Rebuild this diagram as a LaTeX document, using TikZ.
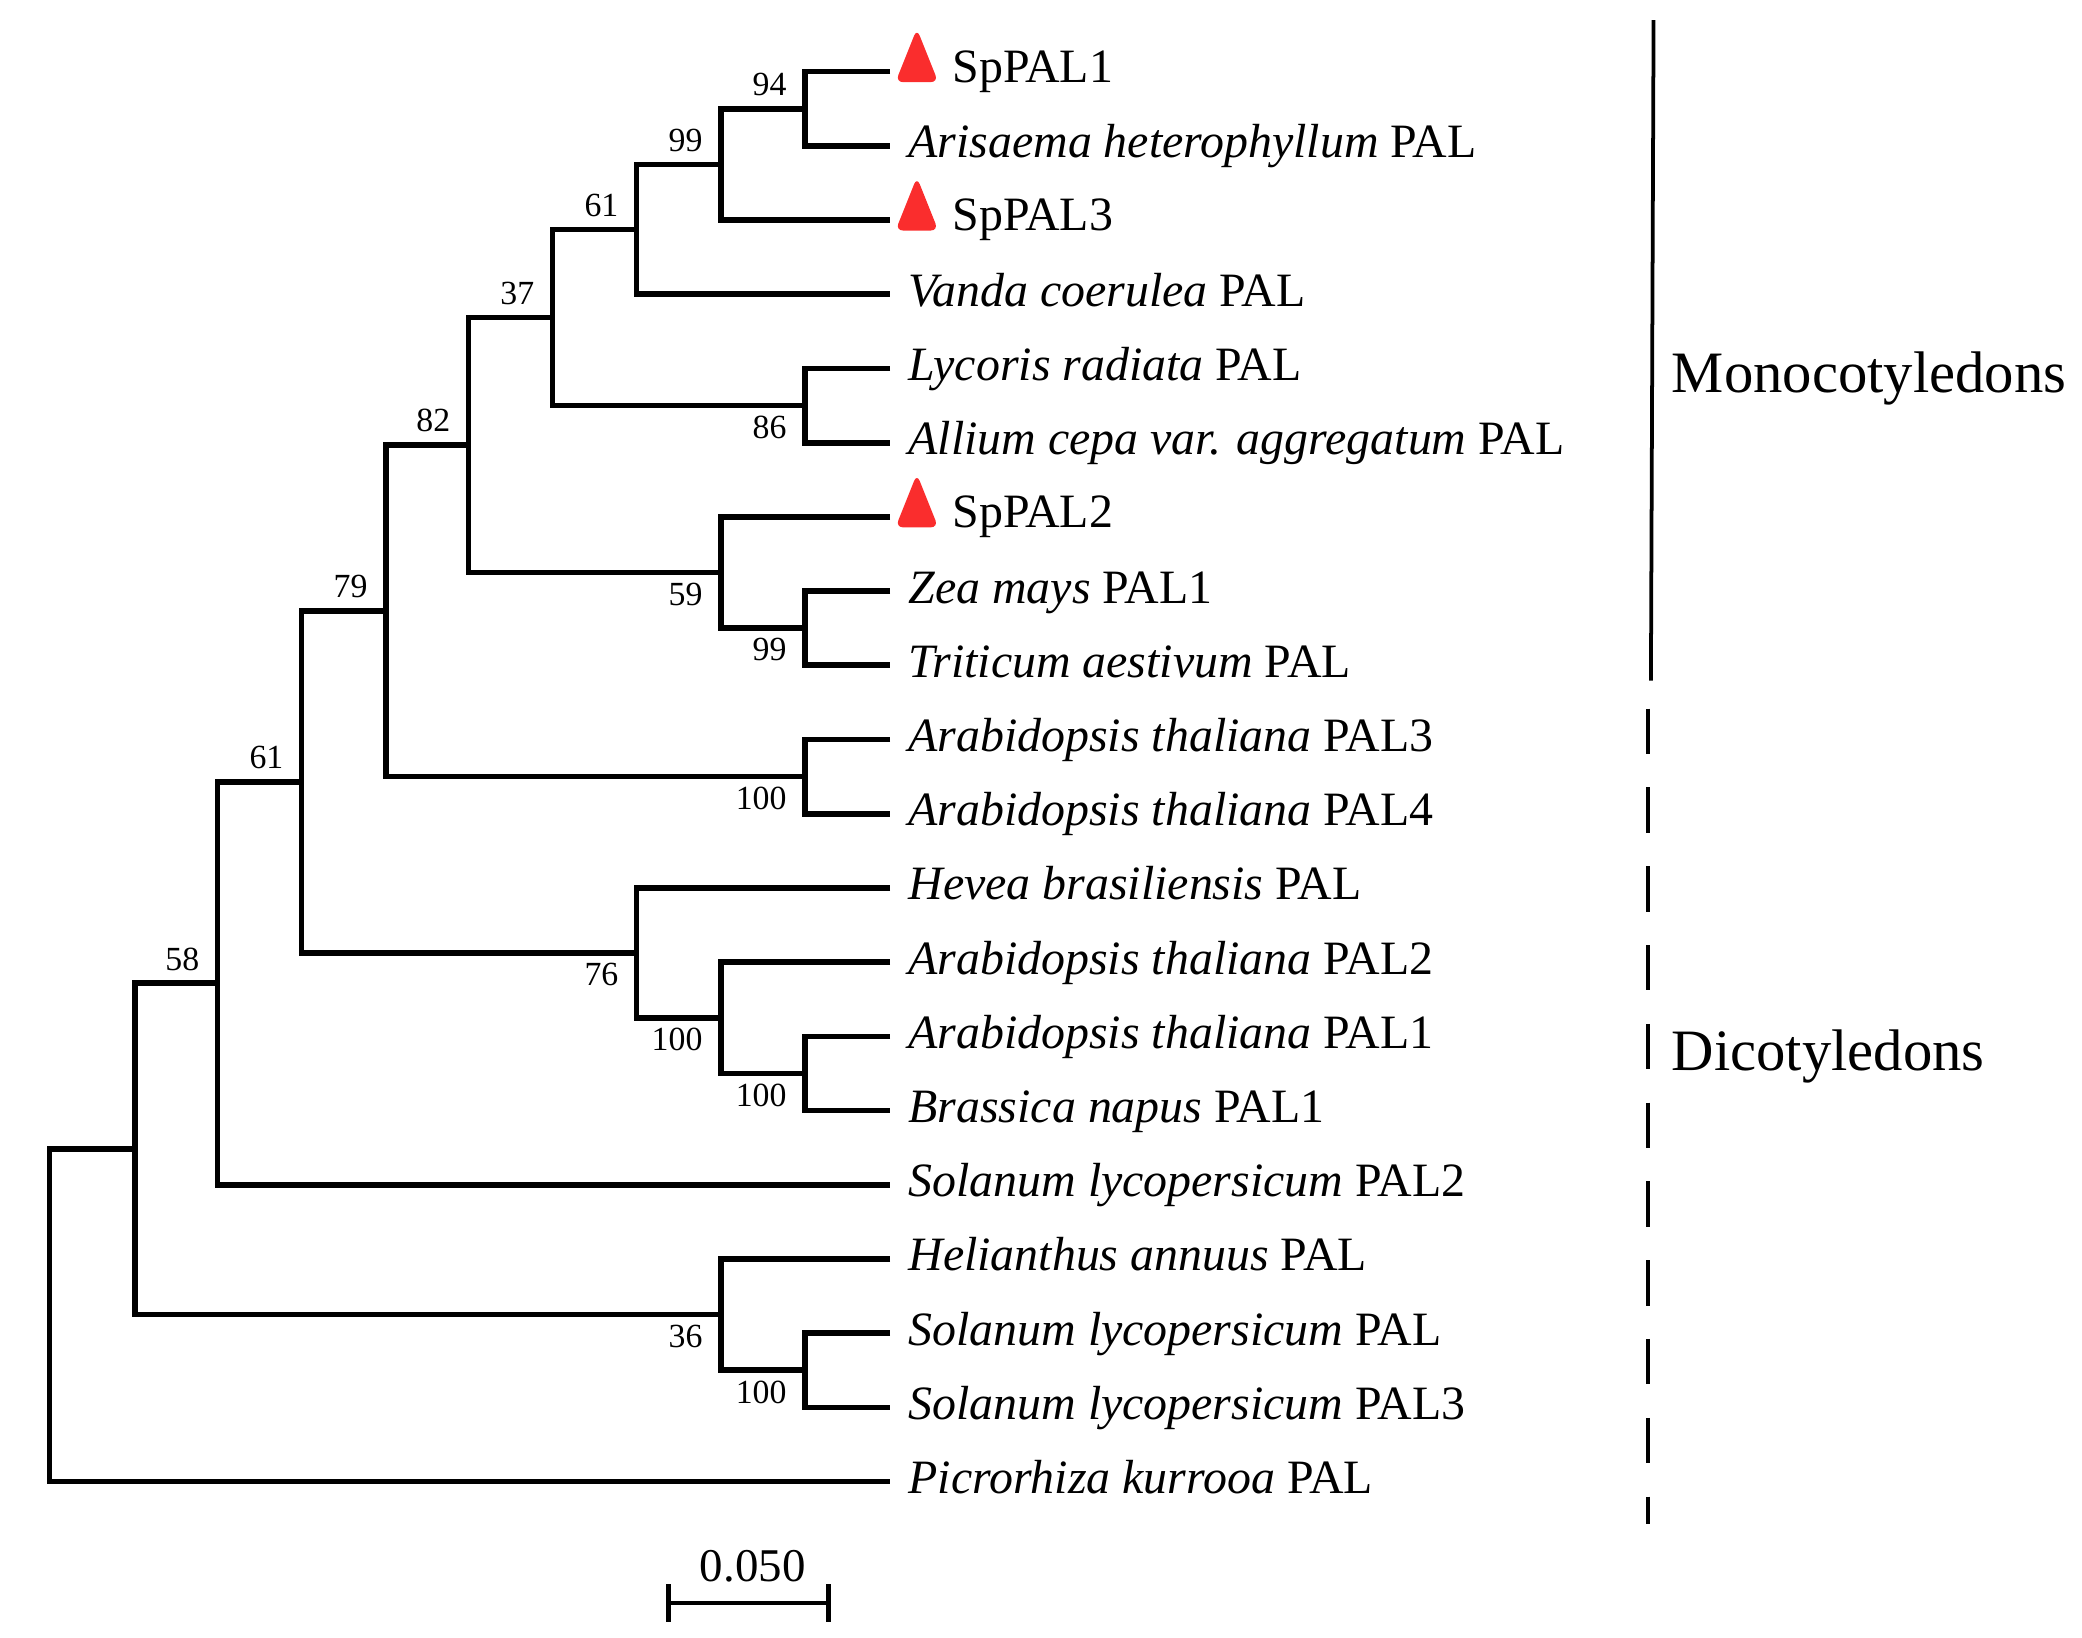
\documentclass[tikz,border=0pt]{standalone}
\usepackage{fontspec}
\setmainfont{Liberation Serif}
\usetikzlibrary{calc,shapes.geometric}
\definecolor{spred}{RGB}{250,45,45}
\tikzset{
  branch/.style={line width=1.2pt},
  taxon/.style={anchor=base west, inner sep=0pt, xshift=0.13cm, yshift=-0.09cm, font=\fontsize{10.2}{12}\selectfont},
  sptaxon/.style={anchor=base west, inner sep=0pt, xshift=0.46cm, yshift=-0.08cm, font=\fontsize{10.2}{12}\selectfont},
  marker/.style={isosceles triangle, isosceles triangle stretches, shape border rotate=90, fill=spred, inner sep=0pt, minimum width=0.32cm, minimum height=0.40cm, rounded corners=1.6pt, xshift=0.20cm, yshift=0.03cm},
  boot/.style={inner sep=0pt, font=\fontsize{7.2}{8}\selectfont},
  bootup/.style={boot, anchor=south east, xshift=-0.13cm, yshift=0.09cm},
  bootdown/.style={boot, anchor=north east, xshift=-0.13cm, yshift=-0.07cm},
  group/.style={anchor=base west, inner sep=0pt, font=\fontsize{12.5}{14}\selectfont},
  bar/.style={line width=0.8pt}
}
\begin{document}
\begin{tikzpicture}[x=0.01cm, y=-0.01cm]
  \useasboundingbox (0,0) rectangle (1560,1227);
  % tips
  \foreach \i in {0,...,19}
    \coordinate (t\i) at (667, {53.7+55.6*\i});
  % clades, children before parents
  \foreach \cl/\cx/\ca/\cb in {n94/603/t0/t1, n99a/540/n94/t2, n61a/477/n99a/t3,
      n86/603/t4/t5, n37/414/n61a/n86, n99b/603/t7/t8, n59/540/t6/n99b,
      n82/351/n37/n59, n100a/603/t9/t10, n79/289/n82/n100a,
      n100c/603/t13/t14, n100b/540/t12/n100c, n76/477/t11/n100b,
      n61b/226/n79/n76, n58/163/n61b/t15, n100d/603/t17/t18,
      n36/540/t16/n100d, nA/101/n58/n36, root/37/nA/t19}{
    \path let \p1 = ($(\ca)!0.5!(\cb)$) in (\cx*0.01cm, \y1) coordinate (\cl);
    \draw[branch] (\ca) -| (\cl) |- (\cb);
  }

  % taxa
  \node[marker] (mk0) at (t0) {};
  \node[sptaxon] (lab0) at (t0) {SpPAL1};
  \node[taxon] (lab1) at (t1) {\textit{Arisaema heterophyllum} PAL};
  \node[marker] (mk2) at (t2) {};
  \node[sptaxon] (lab2) at (t2) {SpPAL3};
  \node[taxon] (lab3) at (t3) {\textit{Vanda coerulea} PAL};
  \node[taxon] (lab4) at (t4) {\textit{Lycoris radiata} PAL};
  \node[taxon] (lab5) at (t5) {\textit{Allium cepa var. aggregatum} PAL};
  \node[marker] (mk6) at (t6) {};
  \node[sptaxon] (lab6) at (t6) {SpPAL2};
  \node[taxon] (lab7) at (t7) {\textit{Zea mays} PAL1};
  \node[taxon] (lab8) at (t8) {\textit{Triticum aestivum} PAL};
  \node[taxon] (lab9) at (t9) {\textit{Arabidopsis thaliana} PAL3};
  \node[taxon] (lab10) at (t10) {\textit{Arabidopsis thaliana} PAL4};
  \node[taxon] (lab11) at (t11) {\textit{Hevea brasiliensis} PAL};
  \node[taxon] (lab12) at (t12) {\textit{Arabidopsis thaliana} PAL2};
  \node[taxon] (lab13) at (t13) {\textit{Arabidopsis thaliana} PAL1};
  \node[taxon] (lab14) at (t14) {\textit{Brassica napus} PAL1};
  \node[taxon] (lab15) at (t15) {\textit{Solanum lycopersicum} PAL2};
  \node[taxon] (lab16) at (t16) {\textit{Helianthus annuus} PAL};
  \node[taxon] (lab17) at (t17) {\textit{Solanum lycopersicum} PAL};
  \node[taxon] (lab18) at (t18) {\textit{Solanum lycopersicum} PAL3};
  \node[taxon] (lab19) at (t19) {\textit{Picrorhiza kurrooa} PAL};

  % bootstrap values
  \node[bootup] (b94) at (n94) {94};
  \node[bootup] (b99a) at (n99a) {99};
  \node[bootup] (b61a) at (n61a) {61};
  \node[bootup] (b37) at (n37) {37};
  \node[bootup] (b82) at (n82) {82};
  \node[bootup] (b79) at (n79) {79};
  \node[bootup] (b61b) at (n61b) {61};
  \node[bootup] (b58) at (n58) {58};
  \node[bootdown] (b86) at (n86) {86};
  \node[bootdown] (b59) at (n59) {59};
  \node[bootdown] (b99b) at (n99b) {99};
  \node[bootdown] (b100a) at (n100a) {100};
  \node[bootdown] (b76) at (n76) {76};
  \node[bootdown] (b100b) at (n100b) {100};
  \node[bootdown] (b100c) at (n100c) {100};
  \node[bootdown] (b36) at (n36) {36};
  \node[bootdown] (b100d) at (n100d) {100};

  % groups
  \coordinate (monotop) at (1239,15);
  \coordinate (monobot) at (1237,510);
  \draw[bar] (monotop) -- (monobot);
  \node[group] (mono) at (1252,294) {Monocotyledons};
  \coordinate (ditop) at (1235,531);
  \coordinate (dibot) at (1235,1142);
  \draw[bar, dash pattern=on 0.34cm off 0.25cm] (ditop) -- (dibot);
  \node[group] (di) at (1252,802) {Dicotyledons};

  % scale
  \coordinate (sbl) at (501,1201);
  \coordinate (sbr) at (621,1201);
  \draw[bar, line width=1pt] (sbl) -- (sbr);
  \draw[bar, line width=1pt] ([yshift=0.14cm]sbl) -- ([yshift=-0.14cm]sbl);
  \draw[bar, line width=1pt] ([yshift=0.14cm]sbr) -- ([yshift=-0.14cm]sbr);
  \node[anchor=base, inner sep=0pt, font=\fontsize{10}{12}\selectfont] (sbtxt) at (564,1185) {0.050};
\end{tikzpicture}
\end{document}
